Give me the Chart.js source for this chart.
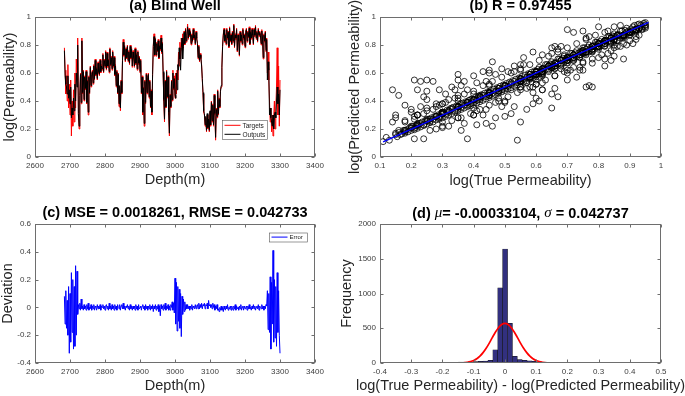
<!DOCTYPE html>
<html><head><meta charset="utf-8">
<script src="https://cdn.jsdelivr.net/npm/chart.js@4.4.1/dist/chart.umd.min.js"></script>
<style>
html,body{margin:0;padding:0;background:#fff;}
body{width:685px;height:396px;overflow:hidden;position:relative;}
canvas{position:absolute;}
#ca{left:0;top:0;} #cb{left:339px;top:0;} #cc{left:0;top:196px;} #cd{left:339px;top:196px;}
</style></head><body>
<canvas id="ca" width="342" height="196"></canvas>
<canvas id="cb" width="346" height="196"></canvas>
<canvas id="cc" width="342" height="200"></canvas>
<canvas id="cd" width="346" height="200"></canvas>
<script>
// ---------------- DATA ----------------
const DEPTH = [
2684,2686,2688,2690,2692,2694,2696,2698,2700,2702,
2704,2706,2708,2710,2712,2714,2716,2718,2720,2722,
2724,2726,2728,2730,2732,2734,2736,2738,2740,2742,
2744,2746,2748,2750,2752,2754,2756,2758,2760,2762,
2764,2766,2768,2770,2772,2774,2776,2778,2780,2782,
2784,2786,2788,2790,2792,2794,2796,2798,2800,2802,
2804,2806,2808,2810,2812,2814,2816,2818,2820,2822,
2824,2826,2828,2830,2832,2834,2836,2838,2840,2842,
2844,2846,2848,2850,2852,2854,2856,2858,2860,2862,
2864,2866,2868,2870,2872,2874,2876,2878,2880,2882,
2884,2886,2888,2890,2892,2894,2896,2898,2900,2902,
2904,2906,2908,2910,2912,2914,2916,2918,2920,2922,
2924,2926,2928,2930,2932,2934,2936,2938,2940,2942,
2944,2946,2948,2950,2952,2954,2956,2958,2960,2962,
2964,2966,2968,2970,2972,2974,2976,2978,2980,2982,
2984,2986,2988,2990,2992,2994,2996,2998,3000,3002,
3004,3006,3008,3010,3012,3014,3016,3018,3020,3022,
3024,3026,3028,3030,3032,3034,3036,3038,3040,3042,
3044,3046,3048,3050,3052,3054,3056,3058,3060,3062,
3064,3066,3068,3070,3072,3074,3076,3078,3080,3082,
3084,3086,3088,3090,3092,3094,3096,3098,3100,3102,
3104,3106,3108,3110,3112,3114,3116,3118,3120,3122,
3124,3126,3128,3130,3132,3134,3136,3138,3140,3142,
3144,3146,3148,3150,3152,3154,3156,3158,3160,3162,
3164,3166,3168,3170,3172,3174,3176,3178,3180,3182,
3184,3186,3188,3190,3192,3194,3196,3198,3200,3202,
3204,3206,3208,3210,3212,3214,3216,3218,3220,3222,
3224,3226,3228,3230,3232,3234,3236,3238,3240,3242,
3244,3246,3248,3250,3252,3254,3256,3258,3260,3262,
3264,3266,3268,3270,3272,3274,3276,3278,3280,3282,
3284,3286,3288,3290,3292,3294,3296,3298,3300];

const TARGETS = [
0.78,0.62,0.45,0.58,0.40,0.66,0.35,0.52,0.30,0.55,
0.15,0.40,0.22,0.48,0.25,0.60,0.35,0.70,0.55,0.85,
0.30,0.20,0.45,0.60,0.38,0.85,0.45,0.62,0.40,0.58,
0.48,0.62,0.38,0.55,0.30,0.58,0.45,0.65,0.50,0.60,
0.62,0.52,0.66,0.55,0.70,0.58,0.64,0.55,0.68,0.60,
0.58,0.70,0.60,0.66,0.62,0.74,0.60,0.70,0.64,0.76,
0.62,0.75,0.64,0.70,0.60,0.78,0.65,0.72,0.62,0.76,
0.64,0.72,0.58,0.66,0.50,0.62,0.45,0.60,0.36,0.50,
0.33,0.55,0.45,0.70,0.84,0.72,0.80,0.68,0.78,0.70,
0.80,0.68,0.76,0.66,0.80,0.70,0.78,0.64,0.76,0.70,
0.64,0.78,0.66,0.74,0.62,0.76,0.66,0.72,0.60,0.70,
0.45,0.58,0.30,0.50,0.22,0.55,0.38,0.60,0.45,0.58,
0.60,0.42,0.55,0.35,0.48,0.30,0.60,0.80,0.88,0.72,
0.85,0.72,0.82,0.75,0.84,0.70,0.80,0.76,0.87,0.74,
0.82,0.60,0.40,0.25,0.55,0.35,0.62,0.42,0.58,0.30,
0.15,0.45,0.35,0.55,0.40,0.62,0.48,0.58,0.42,0.60,
0.45,0.62,0.55,0.75,0.65,0.82,0.70,0.85,0.76,0.88,
0.78,0.90,0.80,0.92,0.82,0.88,0.95,0.84,0.92,0.86,
0.90,0.80,0.88,0.82,0.92,0.84,0.88,0.80,0.90,0.84,
0.82,0.70,0.80,0.68,0.74,0.70,0.66,0.55,0.45,0.32,
0.30,0.22,0.28,0.18,0.30,0.20,0.26,0.18,0.32,0.22,
0.40,0.25,0.38,0.22,0.45,0.30,0.12,0.35,0.28,0.48,
0.30,0.42,0.35,0.48,0.50,0.65,0.80,0.88,0.92,0.82,
0.88,0.80,0.92,0.84,0.90,0.78,0.93,0.82,0.88,0.80,
0.90,0.82,0.95,0.78,0.88,0.84,0.92,0.75,0.88,0.82,
0.72,0.90,0.82,0.88,0.80,0.92,0.84,0.88,0.78,0.90,
0.92,0.82,0.90,0.85,0.93,0.80,0.90,0.84,0.92,0.86,
0.80,0.92,0.86,0.94,0.84,0.90,0.82,0.92,0.86,0.90,
0.88,0.80,0.91,0.84,0.70,0.88,0.82,0.90,0.75,0.85,
0.60,0.75,0.55,0.40,0.25,0.35,0.18,0.30,0.15,0.28,
0.40,0.20,0.35,0.50,0.78,0.30,0.65,0.22,0.55];

const OUTPUTS = [
0.76,0.58,0.52,0.50,0.45,0.58,0.42,0.48,0.38,0.50,
0.28,0.35,0.30,0.42,0.33,0.52,0.40,0.60,0.50,0.80,
0.31,0.22,0.44,0.59,0.39,0.83,0.46,0.61,0.41,0.57,
0.49,0.61,0.39,0.54,0.32,0.57,0.46,0.64,0.51,0.59,
0.61,0.53,0.65,0.56,0.69,0.59,0.63,0.56,0.67,0.61,
0.59,0.69,0.61,0.65,0.63,0.73,0.61,0.69,0.65,0.75,
0.63,0.74,0.65,0.69,0.61,0.77,0.66,0.71,0.63,0.75,
0.65,0.71,0.59,0.65,0.51,0.61,0.46,0.59,0.38,0.51,
0.35,0.54,0.46,0.69,0.82,0.73,0.79,0.69,0.77,0.71,
0.79,0.69,0.75,0.67,0.79,0.71,0.77,0.65,0.75,0.71,
0.65,0.77,0.67,0.73,0.63,0.75,0.67,0.71,0.61,0.69,
0.46,0.57,0.32,0.49,0.24,0.54,0.39,0.59,0.46,0.57,
0.59,0.43,0.54,0.36,0.47,0.32,0.59,0.79,0.86,0.73,
0.84,0.73,0.81,0.76,0.83,0.71,0.79,0.77,0.85,0.75,
0.81,0.61,0.41,0.27,0.54,0.36,0.61,0.43,0.57,0.32,
0.17,0.44,0.36,0.54,0.41,0.60,0.49,0.56,0.44,0.42,
0.60,0.48,0.66,0.62,0.78,0.70,0.62,0.78,0.85,0.70,
0.79,0.89,0.81,0.91,0.83,0.87,0.93,0.85,0.91,0.87,
0.89,0.81,0.87,0.83,0.91,0.85,0.87,0.81,0.89,0.85,
0.81,0.71,0.79,0.69,0.73,0.71,0.65,0.56,0.46,0.33,
0.31,0.23,0.29,0.19,0.31,0.21,0.27,0.19,0.33,0.23,
0.39,0.26,0.37,0.23,0.44,0.31,0.14,0.34,0.29,0.47,
0.31,0.41,0.36,0.47,0.51,0.64,0.79,0.87,0.91,0.83,
0.87,0.81,0.91,0.85,0.89,0.79,0.92,0.83,0.87,0.81,
0.89,0.83,0.94,0.79,0.87,0.85,0.91,0.76,0.87,0.83,
0.73,0.89,0.83,0.87,0.81,0.91,0.85,0.87,0.79,0.89,
0.91,0.83,0.89,0.86,0.92,0.81,0.89,0.85,0.91,0.87,
0.81,0.91,0.87,0.93,0.85,0.89,0.83,0.91,0.87,0.89,
0.87,0.81,0.90,0.85,0.71,0.87,0.83,0.89,0.76,0.84,
0.55,0.68,0.62,0.30,0.35,0.28,0.25,0.22,0.30,0.20,
0.30,0.32,0.28,0.40,0.50,0.38,0.45,0.30,0.48];

const ERROR_DEV = [
0.08,-0.12,0.12,-0.15,0.05,-0.20,0.15,-0.33,0.10,-0.25,
0.25,-0.18,0.20,-0.30,0.15,-0.28,0.30,-0.20,0.26,-0.05,
0.02,-0.01,0.03,-0.02,0.06,-0.01,0.01,-0.02,0.02,-0.01,
0.01,-0.02,0.02,-0.01,0.03,-0.02,0.00,-0.01,0.02,-0.02,
0.01,-0.01,0.02,-0.02,0.01,0.00,-0.02,0.02,-0.01,0.01,
-0.01,0.02,-0.02,0.01,0.00,0.02,-0.01,0.01,-0.02,0.01,
0.02,-0.01,0.01,-0.02,0.03,-0.01,0.01,-0.02,0.02,-0.01,
0.01,-0.02,0.02,-0.01,0.01,-0.02,0.02,0.00,-0.01,0.02,
-0.02,0.01,0.02,-0.01,0.03,-0.01,0.01,-0.02,0.01,0.00,
0.02,-0.01,0.01,-0.02,0.02,-0.01,0.01,-0.02,0.01,-0.01,
0.01,-0.02,0.02,-0.01,0.01,-0.02,0.02,-0.01,0.00,0.01,
-0.02,0.01,0.02,-0.01,0.01,-0.02,0.02,-0.01,0.01,-0.02,
0.01,-0.01,0.02,-0.02,0.01,-0.01,0.02,-0.03,0.01,-0.01,
0.02,-0.02,0.01,-0.01,0.02,-0.03,0.01,-0.06,0.02,-0.01,
0.01,-0.02,0.02,-0.01,0.03,-0.02,0.01,-0.01,0.02,-0.02,
0.01,-0.02,0.02,0.00,0.04,-0.02,0.03,-0.04,0.21,-0.12,
0.18,-0.17,0.15,-0.10,0.13,-0.15,0.10,-0.21,0.08,-0.05,
0.06,-0.03,0.04,-0.02,0.02,-0.01,0.02,-0.01,0.01,-0.02,
0.01,-0.01,0.02,-0.02,0.01,0.00,-0.01,0.02,-0.01,0.01,
0.02,-0.01,0.03,-0.01,0.02,0.00,0.03,-0.01,0.02,0.01,
0.03,-0.01,0.02,0.01,0.03,-0.01,0.05,0.01,0.02,0.00,
0.02,-0.01,0.03,0.00,0.02,-0.02,0.01,-0.01,0.02,-0.02,
-0.01,-0.03,0.00,-0.02,0.01,-0.02,0.00,-0.03,0.01,-0.01,
-0.02,0.01,-0.01,0.02,-0.02,0.00,-0.01,0.01,-0.02,0.01,
0.00,-0.02,0.01,-0.01,0.02,-0.02,0.01,-0.01,0.00,-0.02,
0.01,-0.01,0.02,-0.02,0.00,0.01,-0.02,0.01,-0.01,0.00,
0.01,-0.02,0.01,-0.01,0.02,-0.01,0.00,-0.02,0.01,-0.01,
0.02,-0.01,0.01,-0.02,0.00,0.01,-0.01,0.02,-0.02,0.01,
0.00,-0.01,0.02,-0.01,0.01,-0.02,0.01,-0.01,0.02,0.01,
0.12,-0.16,0.10,-0.18,0.22,-0.30,0.18,-0.12,0.41,-0.25,
0.20,-0.22,0.15,-0.28,0.25,-0.18,0.12,-0.20,-0.33];

// scatter (b): points of the cloud (true, predicted)
const OUTLIER_TRUE = [0.14,0.16,0.18,0.21,0.23,0.25,0.27,0.22,0.25,0.24,0.20,0.21,0.21,0.24,0.14,0.29,0.31,0.34,0.35,0.35,0.37,0.40,0.43,0.45,0.46,0.49,0.47,0.51,0.53,0.56,0.59,0.62,0.66,0.70,0.72,0.75,0.80,0.85,0.83,0.36,0.38,0.37,0.41,0.43,0.46,0.47,0.50,0.52,0.54,0.55,0.53,0.59,0.61,0.65,0.59,0.62,0.66,0.67,0.70,0.73,0.76,0.77,0.74,0.78,0.82,0.84,0.85,0.87,0.89,0.91,0.95,0.13,0.11,0.16,0.18,0.27,0.29,0.30,0.32,0.39,0.42,0.44,0.57,0.61,0.68,0.72,0.69,0.67,0.75,0.78,0.89,0.92,0.25,0.28,0.23,0.33,0.36,0.41,0.45,0.57,0.49,0.44];
const OUTLIER_PRED = [0.48,0.44,0.37,0.55,0.54,0.55,0.54,0.48,0.47,0.43,0.34,0.29,0.13,0.13,0.25,0.48,0.45,0.48,0.59,0.55,0.54,0.58,0.61,0.62,0.68,0.63,0.59,0.61,0.65,0.71,0.75,0.73,0.79,0.91,0.89,0.90,0.93,0.93,0.90,0.19,0.13,0.24,0.23,0.30,0.22,0.28,0.29,0.31,0.12,0.25,0.36,0.38,0.40,0.35,0.46,0.48,0.49,0.43,0.55,0.57,0.50,0.51,0.62,0.67,0.65,0.69,0.72,0.79,0.80,0.81,0.92,0.12,0.11,0.19,0.18,0.34,0.29,0.25,0.41,0.41,0.43,0.34,0.53,0.57,0.63,0.69,0.73,0.77,0.74,0.79,0.89,0.86,0.41,0.38,0.36,0.50,0.51,0.53,0.51,0.34,0.36,0.24];
const NEAR_TRUE = [0.22,0.24,0.26,0.28,0.30,0.31,0.33,0.34,0.36,0.37,0.39,0.40,0.42,0.43,0.45,0.46,0.48,0.49,0.51,0.52,0.54,0.55,0.57,0.58,0.60,0.61,0.63,0.64,0.66,0.67,0.69,0.70,0.72,0.73,0.75,0.76,0.78,0.79,0.81,0.82,0.84,0.86,0.88,0.90,0.93,0.21,0.29,0.35,0.41,0.47,0.53,0.59,0.65,0.71,0.77,0.83,0.87,0.92,0.18,0.32,0.38,0.44,0.50,0.56,0.62,0.68,0.74,0.80];
const NEAR_PRED = [0.30,0.31,0.19,0.36,0.21,0.39,0.26,0.42,0.28,0.45,0.31,0.47,0.34,0.51,0.37,0.54,0.40,0.57,0.43,0.60,0.46,0.63,0.49,0.66,0.52,0.69,0.55,0.72,0.58,0.75,0.61,0.78,0.64,0.81,0.67,0.84,0.70,0.87,0.73,0.89,0.76,0.79,0.81,0.83,0.87,0.27,0.37,0.44,0.33,0.39,0.61,0.50,0.74,0.62,0.86,0.74,0.94,0.84,0.26,0.22,0.48,0.54,0.39,0.66,0.53,0.79,0.64,0.71];
const BAND_TRUE = [0.150,0.155,0.160,0.165,0.170,0.175,0.180,0.185,0.190,0.195,0.200,0.205,0.210,0.215,0.220,0.225,0.230,0.235,0.240,0.245,0.250,0.255,0.260,0.265,0.270,0.275,0.280,0.285,0.290,0.295,0.300,0.305,0.310,0.315,0.320,0.325,0.330,0.335,0.340,0.345,0.350,0.355,0.360,0.365,0.370,0.375,0.380,0.385,0.390,0.395,0.400,0.405,0.410,0.415,0.420,0.425,0.430,0.435,0.440,0.445,0.450,0.455,0.460,0.465,0.470,0.475,0.480,0.485,0.490,0.495,0.500,0.505,0.510,0.515,0.520,0.525,0.530,0.535,0.540,0.545,0.550,0.555,0.560,0.565,0.570,0.575,0.580,0.585,0.590,0.595,0.600,
0.61,0.62,0.63,0.64,0.65,0.66,0.67,0.68,0.69,0.70,0.71,0.72,0.73,0.74,0.75,0.76,0.77,0.78,0.79,0.80,0.81,0.82,0.83,0.84,0.85,0.86,0.87,0.88,0.89,0.90,0.91,0.92,0.93,0.94,0.95];
const BAND_PRED = [0.160,0.145,0.175,0.160,0.165,0.190,0.170,0.195,0.180,0.210,0.190,0.220,0.195,0.225,0.205,0.240,0.215,0.250,0.225,0.260,0.235,0.270,0.245,0.280,0.250,0.290,0.265,0.300,0.270,0.310,0.280,0.320,0.290,0.335,0.300,0.345,0.310,0.355,0.320,0.365,0.330,0.375,0.340,0.385,0.350,0.395,0.360,0.405,0.365,0.415,0.375,0.425,0.385,0.435,0.395,0.445,0.405,0.455,0.415,0.465,0.425,0.475,0.435,0.485,0.445,0.495,0.455,0.505,0.465,0.515,0.475,0.525,0.485,0.535,0.495,0.545,0.505,0.555,0.515,0.565,0.525,0.575,0.535,0.585,0.545,0.595,0.555,0.605,0.565,0.615,0.575,
0.64,0.59,0.66,0.61,0.68,0.63,0.70,0.65,0.72,0.67,0.74,0.69,0.76,0.71,0.78,0.73,0.80,0.75,0.82,0.77,0.84,0.79,0.86,0.81,0.88,0.83,0.90,0.85,0.92,0.87,0.93,0.89,0.95,0.91,0.96];
const CORE_TRUE = [0.20,0.21,0.22,0.23,0.24,0.25,0.26,0.27,0.28,0.29,0.30,0.31,0.32,0.33,0.34,0.35,0.36,0.37,0.38,0.39,0.40,0.41,0.42,0.43,0.44,0.45,0.46,0.47,0.48,0.49,0.50,0.51,0.52,0.53,0.54,0.55,0.56,0.57,0.58,0.59,0.60,
0.605,0.610,0.615,0.620,0.625,0.630,0.635,0.640,0.645,0.650,0.655,0.660,0.665,0.670,0.675,0.680,0.685,0.690,0.695,0.700,0.705,0.710,0.715,0.720,0.725,0.730,0.735,0.740,0.745,0.750,0.755,0.760,0.765,0.770,0.775,0.780,0.785,0.790,0.795,0.800,0.805,0.810,0.815,0.820,0.825,0.830,0.835,0.840,0.845,0.850,0.855,0.860,0.865,0.870,0.875,0.880,0.885,0.890,0.895,0.900,0.905,0.910,0.915,0.920,0.925,0.930,0.935,0.940,0.945,0.950];
const CORE_PRED = [0.205,0.205,0.220,0.240,0.230,0.255,0.255,0.270,0.290,0.280,0.305,0.305,0.320,0.340,0.330,0.355,0.355,0.370,0.390,0.380,0.405,0.405,0.420,0.440,0.430,0.455,0.455,0.470,0.490,0.480,0.505,0.505,0.520,0.540,0.530,0.555,0.555,0.570,0.590,0.580,0.605,
0.625,0.595,0.620,0.595,0.635,0.625,0.660,0.620,0.665,0.635,0.660,0.635,0.675,0.665,0.700,0.660,0.705,0.675,0.700,0.675,0.715,0.705,0.740,0.700,0.745,0.715,0.740,0.715,0.755,0.745,0.780,0.740,0.785,0.755,0.780,0.755,0.795,0.785,0.820,0.780,0.825,0.795,0.820,0.795,0.835,0.825,0.860,0.820,0.865,0.835,0.860,0.835,0.875,0.865,0.900,0.860,0.905,0.875,0.900,0.875,0.915,0.905,0.940,0.900,0.945,0.915,0.940,0.915,0.955,0.945];
const FIT_X = [0.11, 0.96];
const FIT_Y = [0.108, 0.962];

// histogram (d)
const HIST_CENTERS = [-0.2192,-0.2035,-0.1878,-0.1721,-0.1564,-0.1407,-0.1250,-0.1093,-0.0936,-0.0779,-0.0622,-0.0465,-0.0308,-0.0151,0.0006,0.0163,0.0320,0.0477,0.0634,0.0791,0.0948,0.1105,0.1262,0.1419,0.1576,0.1733,0.1890,0.2047];
const HIST_COUNTS  = [2,3,4,6,8,12,14,17,20,24,28,40,190,1080,1640,570,95,50,38,30,24,18,14,11,8,5,4,3];
const NORMAL_X = [-0.13,-0.12,-0.11,-0.10,-0.09,-0.08,-0.07,-0.06,-0.05,-0.04,-0.03,-0.02,-0.01,0,0.01,0.02,0.03,0.04,0.05,0.06,0.07,0.08,0.09,0.10,0.11,0.12,0.13];
const NORMAL_Y = [6,11,21,37,62,99,149,212,287,368,446,511,555,570,555,511,446,368,287,212,149,99,62,37,21,11,6];

// ticks
const DEPTH_TICKS = [2600,2700,2800,2900,3000,3100,3200,3300,3400];
const PERM_TICKS = [0,0.2,0.4,0.6,0.8,1];
const TRUE_TICKS = [0.1,0.2,0.3,0.4,0.5,0.6,0.7,0.8,0.9,1];
const DEV_TICKS = [-0.4,-0.2,0,0.2,0.4,0.6];
const RES_TICKS = [-0.4,-0.3,-0.2,-0.1,0,0.1,0.2,0.3,0.4,0.5];
const FREQ_TICKS = [0,500,1000,1500,2000];

// ---------------- STYLE / HELPERS ----------------
const FF = '"Liberation Sans", Arial, Helvetica, sans-serif';
Chart.defaults.font.family = FF;
Chart.defaults.animation = false;
Chart.defaults.responsive = false;
Chart.defaults.devicePixelRatio = 1;
Chart.defaults.plugins.legend.display = false;
Chart.defaults.plugins.tooltip.enabled = false;

const fmt = v => String(Math.round(v * 1e6) / 1e6);

function axis(tickVals, size, horizontal) {
  return {
    type: 'linear',
    min: tickVals[0], max: tickVals[tickVals.length - 1],
    offset: false,
    afterBuildTicks: s => { s.ticks = tickVals.map(v => ({ value: v })); },
    ticks: { autoSkip: false, maxRotation: 0, minRotation: 0, color: '#3c3c3c', font: { size: 8 }, padding: 4, callback: v => fmt(v) },
    grid: { display: false, drawTicks: false },
    border: { display: false },
    afterFit: s => { if (horizontal) s.height = size; else s.width = size; }
  };
}

function decor(cfg) {
  return {
    id: 'decor',
    afterDatasetsDraw(chart) {
      const { ctx, chartArea: a, scales } = chart;
      const L = Math.round(a.left) + 0.5, R = Math.round(a.right) - 0.5;
      const T = Math.round(a.top) + 0.5, B = Math.round(a.bottom) - 0.5;
      ctx.save();
      ctx.strokeStyle = '#6e6e6e';
      ctx.lineWidth = 1;
      ctx.strokeRect(L, T, R - L, B - T);
      const tl = 3;
      ctx.beginPath();
      scales.x.ticks.forEach(t => {
        const px = Math.round(scales.x.getPixelForValue(t.value)) + 0.5;
        ctx.moveTo(px, B); ctx.lineTo(px, B - tl);
        ctx.moveTo(px, T); ctx.lineTo(px, T + tl);
      });
      scales.y.ticks.forEach(t => {
        const py = Math.round(scales.y.getPixelForValue(t.value)) + 0.5;
        ctx.moveTo(L, py); ctx.lineTo(L + tl, py);
        ctx.moveTo(R, py); ctx.lineTo(R - tl, py);
      });
      ctx.stroke();
      if (cfg.legend) {
        const g = cfg.legend;
        ctx.fillStyle = '#fff';
        ctx.fillRect(g.x, g.y, g.w, g.h);
        ctx.strokeStyle = '#555';
        ctx.lineWidth = 0.6;
        ctx.strokeRect(g.x + 0.5, g.y + 0.5, g.w, g.h);
        ctx.font = g.font + 'px ' + FF;
        ctx.textBaseline = 'middle';
        ctx.textAlign = 'left';
        g.rows.forEach((r, i) => {
          const ds = chart.data.datasets[r.ds];
          const yy = g.y + g.rowY[i];
          ctx.strokeStyle = ds.borderColor;
          ctx.lineWidth = 1;
          ctx.beginPath(); ctx.moveTo(g.x + g.l0, yy); ctx.lineTo(g.x + g.l1, yy); ctx.stroke();
          ctx.fillStyle = '#222';
          ctx.fillText(ds.label, g.x + g.tx, yy + 0.5);
        });
      }
      ctx.restore();
    },
    afterDraw(chart) {
      const { ctx, chartArea: a } = chart;
      const cx = (a.left + a.right) / 2, cy = (a.top + a.bottom) / 2;
      ctx.save();
      ctx.textBaseline = 'middle';
      let total = 0;
      const widths = cfg.title.map(s => { ctx.font = s.f; const w = ctx.measureText(s.t).width; total += w; return w; });
      let x = cx - total / 2;
      ctx.textAlign = 'left';
      ctx.fillStyle = '#000';
      cfg.title.forEach((s, i) => { ctx.font = s.f; ctx.fillText(s.t, x, cfg.titleY); x += widths[i]; });
      ctx.fillStyle = '#262626';
      ctx.font = '14.5px ' + FF;
      ctx.textAlign = 'center';
      ctx.fillText(cfg.xLabel, cx, cfg.xLabelY);
      ctx.translate(cfg.yLabelX, cy);
      ctx.rotate(-Math.PI / 2);
      ctx.fillText(cfg.yLabel, 0, 0);
      ctx.restore();
    }
  };
}
const BOLD = 'bold 14.5px ' + FF;
const ITAL = 'italic 15px "Liberation Serif", "Times New Roman", serif';

// ---------------- (a) Blind Well ----------------
new Chart(document.getElementById('ca'), {
  type: 'line',
  data: { datasets: [
    { label: 'Targets', data: DEPTH.map((d, i) => ({ x: d, y: TARGETS[i] })), borderColor: '#ff0000', borderWidth: 1, pointRadius: 0, order: 2 },
    { label: 'Outputs', data: DEPTH.map((d, i) => ({ x: d, y: OUTPUTS[i] })), borderColor: '#000000', borderWidth: 1, pointRadius: 0, order: 1 }
  ] },
  options: {
    layout: { padding: { top: 17, right: 27, bottom: 0, left: 0 } },
    scales: { x: axis(DEPTH_TICKS, 39, true), y: axis(PERM_TICKS, 35, false) }
  },
  plugins: [decor({
    title: [{ t: '(a) Blind Well', f: BOLD }], titleY: 6,
    xLabel: 'Depth(m)', xLabelY: 179.5, yLabel: 'log(Permeability)', yLabelX: 10.4,
    legend: { x: 222, y: 120, w: 45, h: 19, font: 6.5, l0: 2.5, l1: 18.5, tx: 20.5, rowY: [5.3, 14.3], rows: [{ ds: 0 }, { ds: 1 }] }
  })]
});

// ---------------- (b) Regression ----------------
const SCATTER = [];
TARGETS.forEach((t, i) => SCATTER.push({ x: t, y: OUTPUTS[i] }));
BAND_TRUE.forEach((t, i) => SCATTER.push({ x: t, y: BAND_PRED[i] }));
CORE_TRUE.forEach((t, i) => SCATTER.push({ x: t, y: CORE_PRED[i] }));
NEAR_TRUE.forEach((t, i) => SCATTER.push({ x: t, y: NEAR_PRED[i] }));
OUTLIER_TRUE.forEach((t, i) => SCATTER.push({ x: t, y: OUTLIER_PRED[i] }));
new Chart(document.getElementById('cb'), {
  type: 'scatter',
  data: { datasets: [
    { type: 'line', label: 'Fit', data: FIT_X.map((x, i) => ({ x, y: FIT_Y[i] })), borderColor: '#0000ff', borderWidth: 1.5, pointRadius: 0, order: 0 },
    { label: 'Data', data: SCATTER, pointRadius: 3, borderWidth: 0.8, borderColor: '#000', backgroundColor: 'rgba(0,0,0,0)', order: 1 }
  ] },
  options: {
    layout: { padding: { top: 17, right: 24, bottom: 0, left: 0 } },
    scales: { x: axis(TRUE_TICKS, 39, true), y: axis(PERM_TICKS, 41, false) }
  },
  plugins: [decor({
    title: [{ t: '(b) R = 0.97455', f: BOLD }], titleY: 6,
    xLabel: 'log(True Permeability)', xLabelY: 180.5, yLabel: 'log(Predicted Permeability)', yLabelX: 16.4
  })]
});

// ---------------- (c) Error ----------------
new Chart(document.getElementById('cc'), {
  type: 'line',
  data: { datasets: [
    { label: 'Error', data: DEPTH.map((d, i) => ({ x: d, y: ERROR_DEV[i] })), borderColor: '#0000ff', borderWidth: 1, pointRadius: 0 }
  ] },
  options: {
    layout: { padding: { top: 28, right: 27, bottom: 0, left: 0 } },
    scales: { x: axis(DEPTH_TICKS, 33, true), y: axis(DEV_TICKS, 35, false) }
  },
  plugins: [decor({
    title: [{ t: '(c) MSE = 0.0018261, RMSE = 0.042733', f: BOLD }], titleY: 17,
    xLabel: 'Depth(m)', xLabelY: 189.7, yLabel: 'Deviation', yLabelX: 7.5,
    legend: { x: 269, y: 36.5, w: 38, h: 9, font: 6, l0: 2.5, l1: 18.5, tx: 20.5, rowY: [4.6], rows: [{ ds: 0 }] }
  })]
});

// ---------------- (d) Histogram ----------------
new Chart(document.getElementById('cd'), {
  type: 'bar',
  data: { datasets: [
    { type: 'line', label: 'Normal fit', data: NORMAL_X.map((x, i) => ({ x, y: NORMAL_Y[i] })), borderColor: '#ff0000', borderWidth: 1.7, pointRadius: 0, tension: 0.3, order: 0 },
    { type: 'bar', label: 'Frequency', data: HIST_CENTERS.map((x, i) => ({ x, y: HIST_COUNTS[i] })), backgroundColor: '#32307f', borderColor: '#111', borderWidth: 0.5, barPercentage: 1, categoryPercentage: 1, grouped: false, order: 1 }
  ] },
  options: {
    layout: { padding: { top: 28, right: 24, bottom: 0, left: 0 } },
    scales: { x: axis(RES_TICKS, 33, true), y: axis(FREQ_TICKS, 41, false) }
  },
  plugins: [decor({
    title: [{ t: '(d) ', f: BOLD }, { t: 'μ', f: ITAL }, { t: '= -0.00033104, ', f: BOLD }, { t: 'σ', f: ITAL }, { t: ' = 0.042737', f: BOLD }], titleY: 17.5,
    xLabel: 'log(True Permeability) - log(Predicted Permeability)', xLabelY: 190, yLabel: 'Frequency', yLabelX: 7.7
  })]
});
</script>
</body></html>
